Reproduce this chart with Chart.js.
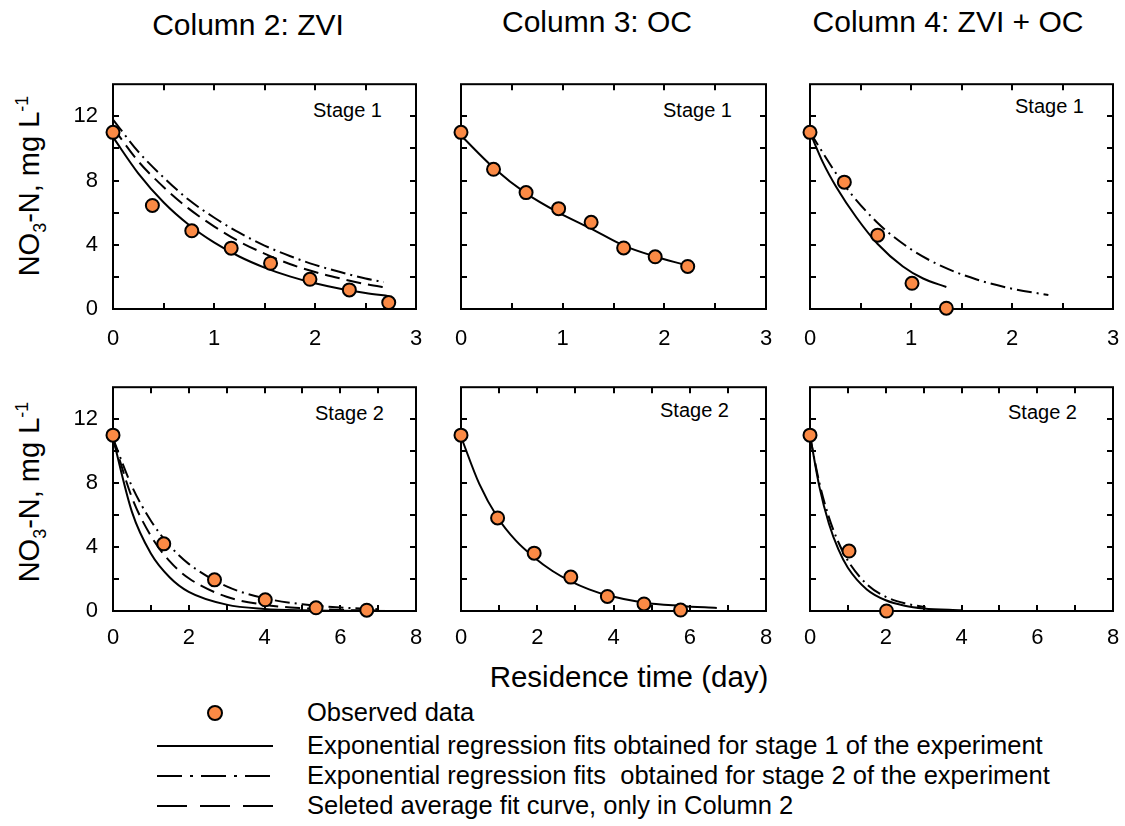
<!DOCTYPE html>
<html>
<head>
<meta charset="utf-8">
<script src="https://cdn.jsdelivr.net/npm/chart.js@4.4.1/dist/chart.umd.min.js"></script>
<style>
  body { margin: 0; background: #fff; width: 1125px; height: 826px; overflow: hidden;
         font-family: "Liberation Sans", Arial, sans-serif; color: #000; }
  .panel { position: absolute; }
  .txt { position: absolute; white-space: nowrap; line-height: 1; }
  .title { font-size: 30px; transform: translateX(-50%); }
  .stage { font-size: 20px; }
  .ylab { font-size: 29px; transform: translate(-50%, -50%) rotate(-90deg); }
  .ylab sub, .ylab sup { font-size: 18px; }
  .leg { font-size: 25.5px; left: 307px; transform: translateY(-50%); }
  svg { position: absolute; }
</style>
</head>
<body>

<div class="txt title" style="left:248px; top:10px;">Column 2: ZVI</div>
<div class="txt title" style="left:597px; top:7px;">Column 3: OC</div>
<div class="txt title" style="left:948px; top:7px;">Column 4: ZVI + OC</div>

<div class="txt ylab" style="left:31px; top:186px;">NO<sub>3</sub>-N, mg L<sup>-1</sup></div>
<div class="txt ylab" style="left:31px; top:492px;">NO<sub>3</sub>-N, mg L<sup>-1</sup></div>

<div class="txt stage" style="left:313px; top:100px;">Stage 1</div>
<div class="txt stage" style="left:663px; top:100px;">Stage 1</div>
<div class="txt stage" style="left:1015px; top:96px;">Stage 1</div>
<div class="txt stage" style="left:315px; top:403px;">Stage 2</div>
<div class="txt stage" style="left:660px; top:400px;">Stage 2</div>
<div class="txt stage" style="left:1008px; top:402px;">Stage 2</div>

<div class="txt" style="left:629px; top:662px; font-size:29.5px; transform:translateX(-50%);">Residence time (day)</div>

<!-- legend -->
<svg width="1125" height="826" style="left:0; top:0; pointer-events:none;">
  <circle cx="215" cy="713" r="7" fill="#fb8a45" stroke="#000" stroke-width="2"/>
  <line x1="157" y1="746" x2="273" y2="746" stroke="#000" stroke-width="2"/>
  <line x1="157" y1="776" x2="273" y2="776" stroke="#000" stroke-width="2" stroke-dasharray="25,8,3,8"/>
  <line x1="157" y1="806" x2="273" y2="806" stroke="#000" stroke-width="2" stroke-dasharray="30,13"/>
</svg>
<div class="txt leg" style="top:713px;">Observed data</div>
<div class="txt leg" style="top:746px;">Exponential regression fits obtained for stage 1 of the experiment</div>
<div class="txt leg" style="top:776px;">Exponential regression fits &nbsp;obtained for stage 2 of the experiment</div>
<div class="txt leg" style="top:806px;">Seleted average fit curve, only in Column 2</div>

<div class="panel" id="p1"><canvas id="c1"></canvas></div>
<div class="panel" id="p2"><canvas id="c2"></canvas></div>
<div class="panel" id="p3"><canvas id="c3"></canvas></div>
<div class="panel" id="p4"><canvas id="c4"></canvas></div>
<div class="panel" id="p5"><canvas id="c5"></canvas></div>
<div class="panel" id="p6"><canvas id="c6"></canvas></div>

<script>
// --- Column 2: ZVI, stage 1 ---
const zviS1ObsX = [0, 0.39, 0.78, 1.17, 1.56, 1.95, 2.34, 2.73];
const zviS1ObsY = [11.0, 6.45, 4.87, 3.79, 2.85, 1.85, 1.19, 0.40];
const zviS1FitX = [0, 0.25, 0.5, 0.75, 1.0, 1.25, 1.5, 1.75, 2.0, 2.25, 2.5, 2.73];
const zviS1FitY = [10.7, 8.45, 6.65, 5.25, 4.15, 3.27, 2.58, 2.03, 1.6, 1.26, 1.0, 0.8];
const zviS1Fit2X = [0, 0.25, 0.5, 0.75, 1.0, 1.25, 1.5, 1.75, 2.0, 2.25, 2.5, 2.68];
const zviS1Fit2Y = [11.8, 9.8, 8.2, 6.8, 5.7, 4.75, 3.95, 3.3, 2.75, 2.3, 1.9, 1.68];
const zviS1AvgX = [0, 0.25, 0.5, 0.75, 1.0, 1.25, 1.5, 1.75, 2.0, 2.25, 2.5, 2.73];
const zviS1AvgY = [11.3, 9.2, 7.6, 6.25, 5.15, 4.2, 3.45, 2.8, 2.3, 1.9, 1.55, 1.3];

// --- Column 3: OC, stage 1 ---
const ocS1ObsX = [0, 0.32, 0.64, 0.96, 1.28, 1.6, 1.91, 2.23];
const ocS1ObsY = [11.0, 8.7, 7.25, 6.25, 5.4, 3.8, 3.25, 2.65];
const ocS1FitX = [0, 0.32, 0.64, 0.96, 1.28, 1.6, 1.91, 2.2];
const ocS1FitY = [10.8, 8.8, 7.2, 6.0, 5.0, 3.95, 3.27, 2.75];

// --- Column 4: ZVI + OC, stage 1 ---
const mixS1ObsX = [0, 0.34, 0.67, 1.01, 1.35];
const mixS1ObsY = [11.0, 7.9, 4.6, 1.6, 0.05];
const mixS1FitX = [0, 0.13, 0.26, 0.46, 0.67, 0.92, 1.12, 1.35];
const mixS1FitY = [11.0, 9.1, 7.6, 5.7, 4.05, 2.65, 1.9, 1.37];
const mixS1Fit2X = [0, 0.33, 0.66, 0.99, 1.32, 1.65, 1.98, 2.36];
const mixS1Fit2Y = [11.0, 7.8, 5.42, 3.76, 2.62, 1.84, 1.29, 0.87];

// --- Column 2: ZVI, stage 2 ---
const zviS2ObsX = [0, 1.34, 2.68, 4.02, 5.36, 6.70];
const zviS2ObsY = [11.0, 4.2, 1.95, 0.7, 0.2, 0.05];
const zviS2FitX = [0, 0.5, 1, 1.5, 2, 3, 4, 5, 6, 8];
const zviS2FitY = [10.8, 6.2, 3.6, 2.1, 1.2, 0.4, 0.13, 0.04, 0.02, 0];
const zviS2Fit2X = [0, 0.5, 1, 1.5, 2, 3, 4, 5, 6, 7];
const zviS2Fit2Y = [10.8, 7.8, 5.65, 4.08, 2.95, 1.54, 0.8, 0.42, 0.22, 0.11];
const zviS2AvgX = [0, 0.5, 1, 1.5, 2, 3, 4, 5, 6, 7];
const zviS2AvgY = [10.8, 7.1, 4.7, 3.1, 2.05, 0.89, 0.39, 0.17, 0.07, 0.03];

// --- Column 3: OC, stage 2 ---
const ocS2ObsX = [0, 0.96, 1.92, 2.88, 3.84, 4.80, 5.76];
const ocS2ObsY = [11.0, 5.82, 3.62, 2.12, 0.91, 0.44, 0.06];
const ocS2FitX = [0, 0.48, 0.96, 1.44, 1.92, 2.4, 2.88, 3.36, 3.84, 4.8, 5.76, 6.71];
const ocS2FitY = [10.9, 7.95, 5.85, 4.4, 3.35, 2.5, 1.85, 1.35, 0.98, 0.52, 0.32, 0.19];

// --- Column 4: ZVI + OC, stage 2 ---
const mixS2ObsX = [0, 1.03, 2.02];
const mixS2ObsY = [11.0, 3.75, 0.0];
const mixS2FitX = [0, 0.25, 0.5, 0.75, 1, 1.5, 2, 2.5, 3, 4];
const mixS2FitY = [11.0, 7.75, 5.46, 3.85, 2.71, 1.35, 0.67, 0.33, 0.16, 0.04];
const mixS2Fit2X = [0, 0.25, 0.5, 0.75, 1, 1.5, 2, 2.5, 3.05];
const mixS2Fit2Y = [10.9, 7.99, 5.86, 4.3, 3.15, 1.67, 0.89, 0.48, 0.24];

// axis ticks
const yTicksMax = 14;
const yLabelTicks = [0, 4, 8, 12];

const ORANGE = '#fb8a45';
const DASHED = [15, 7];
const DASHDOT = [15, 5, 2, 5];

function pts(xs, ys) {
  return xs.map((x, i) => ({ x: x, y: ys[i] }));
}

function obs(xs, ys) {
  return {
    data: pts(xs, ys), showLine: false, order: 0, clip: false,
    pointRadius: 6.5, pointBackgroundColor: ORANGE, pointBorderColor: '#000', pointBorderWidth: 2
  };
}

function curve(xs, ys, dash) {
  return {
    data: pts(xs, ys), showLine: true, order: 1, clip: false,
    borderColor: '#000', borderWidth: 2, borderDash: dash || [],
    pointRadius: 0, cubicInterpolationMode: 'monotone'
  };
}

// frame + inward tick marks on all four sides
const frameTicks = {
  id: 'frameTicks',
  beforeDatasetsDraw(chart) {
    const { ctx, chartArea: a, scales } = chart;
    const len = 6;
    ctx.save();
    ctx.strokeStyle = '#000';
    ctx.lineWidth = 2;
    ctx.strokeRect(a.left, a.top, a.right - a.left, a.bottom - a.top);
    ctx.beginPath();
    scales.x.ticks.forEach(t => {
      if (t.value <= scales.x.min || t.value >= scales.x.max) return;
      const px = Math.round(scales.x.getPixelForValue(t.value));
      ctx.moveTo(px, a.bottom); ctx.lineTo(px, a.bottom - len);
      ctx.moveTo(px, a.top); ctx.lineTo(px, a.top + len);
    });
    scales.y.ticks.forEach(t => {
      if (t.value <= scales.y.min || t.value >= scales.y.max) return;
      const py = Math.round(scales.y.getPixelForValue(t.value));
      ctx.moveTo(a.left, py); ctx.lineTo(a.left + len, py);
      ctx.moveTo(a.right, py); ctx.lineTo(a.right - len, py);
    });
    ctx.stroke();
    ctx.restore();
  }
};

// right padding kept wider than the last x label overhang so the plot box stays put
const PAD_L = 60, PAD_T = 10, PAD_R = 30, PAD_B = 44;

function makePanel(id, box, xMax, xStep, xLabelEvery, showY, datasets) {
  const wrap = document.getElementById('p' + id);
  const cv = document.getElementById('c' + id);
  const w = box.w + PAD_L + PAD_R, h = box.h + PAD_T + PAD_B;
  wrap.style.left = (box.x - PAD_L) + 'px';
  wrap.style.top = (box.y - PAD_T) + 'px';
  cv.width = w; cv.height = h;
  return new Chart(cv, {
    type: 'scatter',
    data: { datasets: datasets },
    plugins: [frameTicks],
    options: {
      responsive: false,
      animation: false,
      layout: { padding: { top: PAD_T, right: PAD_R, left: 0, bottom: 0 } },
      plugins: { legend: { display: false }, tooltip: { enabled: false } },
      scales: {
        x: {
          type: 'linear', min: 0, max: xMax,
          grid: { display: false, drawTicks: false },
          border: { display: false },
          afterFit: s => { s.height = PAD_B; },
          ticks: {
            stepSize: xStep, padding: box.y < 200 ? 17 : 14, color: '#000',
            font: { size: 22 }, maxRotation: 0, autoSkip: false,
            callback: v => (Math.abs(v / xLabelEvery - Math.round(v / xLabelEvery)) < 1e-6 ? v : '')
          }
        },
        y: {
          type: 'linear', min: 0, max: yTicksMax,
          grid: { display: false, drawTicks: false },
          border: { display: false },
          afterFit: s => { s.width = PAD_L; },
          ticks: {
            stepSize: 2, padding: 15, color: '#000',
            font: { size: 22 }, autoSkip: false,
            callback: v => (showY && yLabelTicks.includes(v) ? v : '')
          }
        }
      }
    }
  });
}

Chart.defaults.font.family = '"Liberation Sans", Arial, sans-serif';

const topRow = { y: 66, h: 243 };
const botRow = { y: 369, h: 242 };
const cols = [{ x: 113, w: 303 }, { x: 461, w: 305 }, { x: 810, w: 303 }];
const box = (c, r) => ({ x: c.x, w: c.w, y: r.y, h: r.h });

makePanel(1, box(cols[0], topRow), 3, 0.5, 1, true, [
  obs(zviS1ObsX, zviS1ObsY),
  curve(zviS1FitX, zviS1FitY),
  curve(zviS1Fit2X, zviS1Fit2Y, DASHDOT),
  curve(zviS1AvgX, zviS1AvgY, DASHED)
]);
makePanel(2, box(cols[1], topRow), 3, 0.5, 1, false, [
  obs(ocS1ObsX, ocS1ObsY),
  curve(ocS1FitX, ocS1FitY)
]);
makePanel(3, box(cols[2], topRow), 3, 0.5, 1, false, [
  obs(mixS1ObsX, mixS1ObsY),
  curve(mixS1FitX, mixS1FitY),
  curve(mixS1Fit2X, mixS1Fit2Y, DASHDOT)
]);
makePanel(4, box(cols[0], botRow), 8, 1, 2, true, [
  obs(zviS2ObsX, zviS2ObsY),
  curve(zviS2FitX, zviS2FitY),
  curve(zviS2Fit2X, zviS2Fit2Y, DASHDOT),
  curve(zviS2AvgX, zviS2AvgY, DASHED)
]);
makePanel(5, box(cols[1], botRow), 8, 1, 2, false, [
  obs(ocS2ObsX, ocS2ObsY),
  curve(ocS2FitX, ocS2FitY)
]);
makePanel(6, box(cols[2], botRow), 8, 1, 2, false, [
  obs(mixS2ObsX, mixS2ObsY),
  curve(mixS2FitX, mixS2FitY),
  curve(mixS2Fit2X, mixS2Fit2Y, DASHDOT)
]);
</script>
</body>
</html>
